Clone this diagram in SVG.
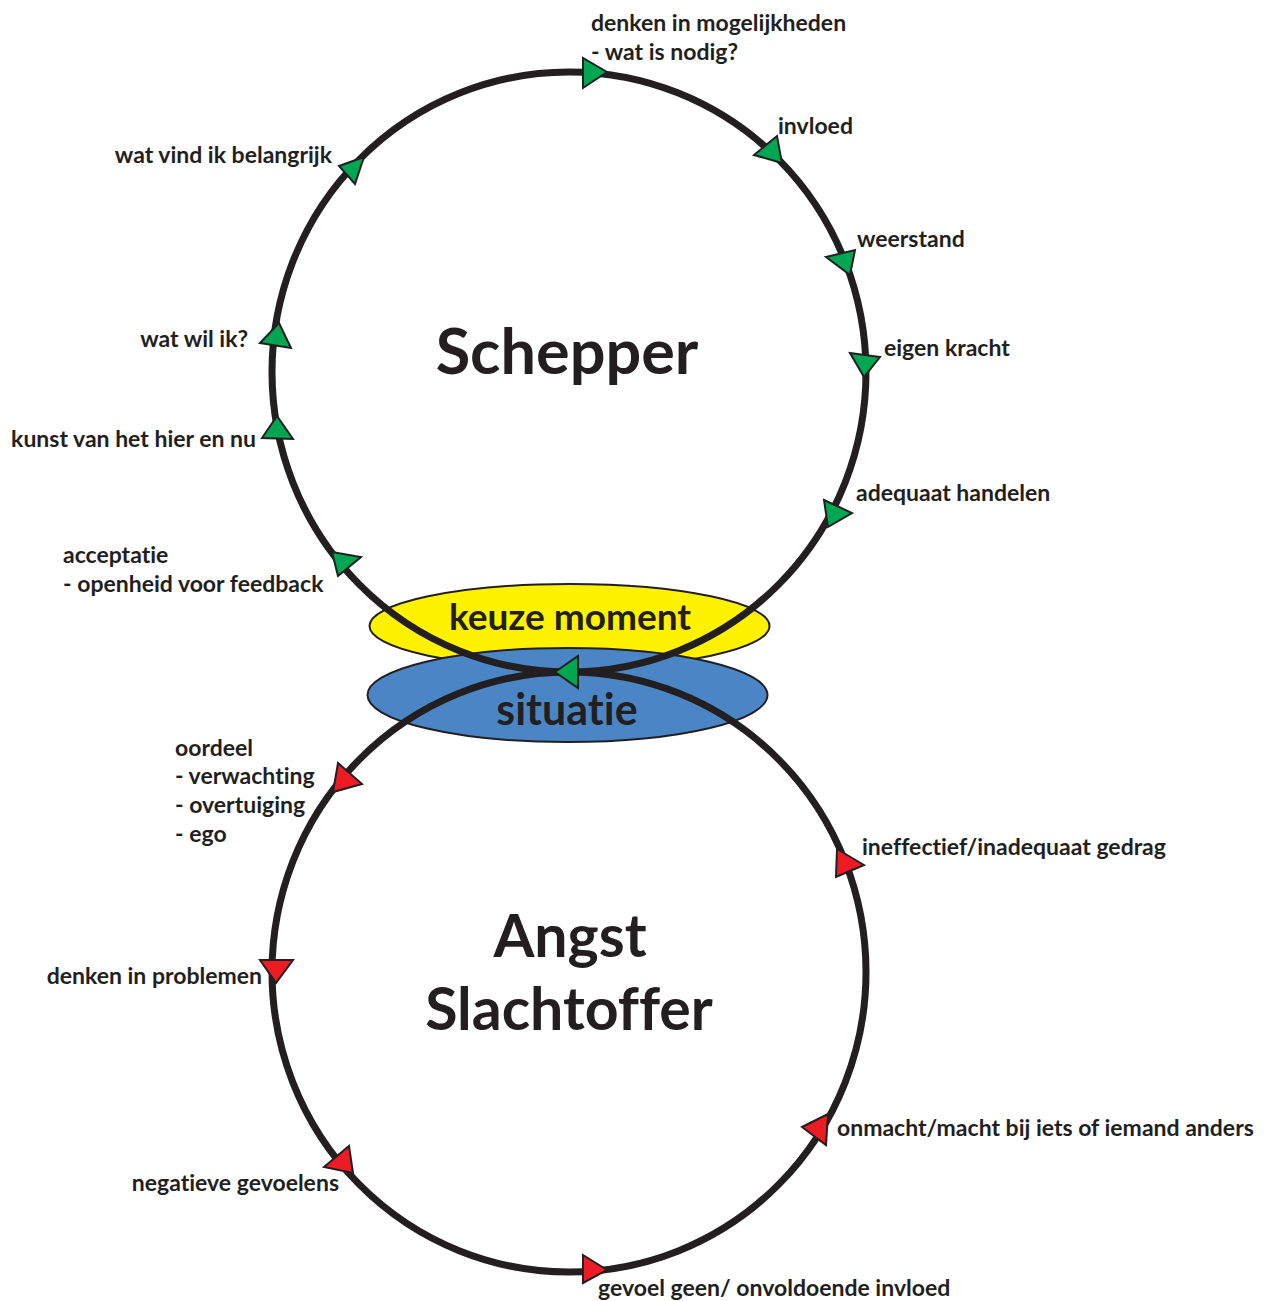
<svg xmlns="http://www.w3.org/2000/svg" width="1268" height="1301" viewBox="0 0 1268 1301">
<style>
text{font-variant-ligatures:none;font-feature-settings:"liga" 0,"dlig" 0}
.lbl{font-family:Lato,"Open Sans","Noto Sans",sans-serif;font-weight:bold;font-size:23px;fill:#231f20}
.big{font-family:Lato,"Open Sans","Noto Sans",sans-serif;font-weight:bold;fill:#231f20;text-anchor:middle}
.ring{fill:none;stroke:#231f20;stroke-width:7}
.g{fill:#00a651;stroke:#231f20;stroke-width:2;stroke-linejoin:miter}
.r{fill:#ed1c24;stroke:#231f20;stroke-width:2;stroke-linejoin:miter}
.ell{stroke:#231f20;stroke-width:2}
</style>
<rect width="1268" height="1301" fill="#fff"/>
<g id="keuze-moment">
<ellipse class="ell" cx="569.5" cy="626" rx="200" ry="42" fill="#fff200"/>
</g>
<g id="situatie">
<ellipse class="ell" cx="567.5" cy="695" rx="200" ry="47" fill="#4a86c5"/>
</g>
<g id="connectors">
<ellipse class="ring" cx="569" cy="372" rx="297" ry="300"/>
<ellipse class="ring" cx="569" cy="972" rx="297" ry="300"/>
</g>
<g id="labels-center">
<text class="big" x="570" y="630" font-size="37">keuze moment</text>
<text class="big" x="567" y="725" font-size="43">situatie</text>
<text class="big" x="567" y="374" font-size="63">Schepper</text>
<text class="big" x="570" y="957" font-size="59">Angst</text>
<text class="big" x="569" y="1030" font-size="59">Slachtoffer</text>
</g>
<g id="arrows-top">
<polygon class="g" points="583,58 583,88 607,72"/>
<polygon class="g" points="754,155 777,136 782,163"/>
<polygon class="g" points="826,257 855,250 850,275"/>
<polygon class="g" points="850,353 880,357 864,377"/>
<polygon class="g" points="824,500 852,513 828,527"/>
<polygon class="g" points="555,672 578,656 578,688"/>
<polygon class="g" points="332,552 361,557 338,576"/>
<polygon class="g" points="262,438 277,416 293,439"/>
<polygon class="g" points="260,343 279,323 291,348"/>
<polygon class="g" points="339,166 364,157 355,184"/>
</g>
<g id="arrows-bottom">
<polygon class="r" points="338,763 362,784 333,792"/>
<polygon class="r" points="260,960 293,960 276,983"/>
<polygon class="r" points="324,1167 349,1146 353,1173"/>
<polygon class="r" points="583,1255 607,1270 583,1283"/>
<polygon class="r" points="802,1127 828,1114 826,1145"/>
<polygon class="r" points="837,849 864,865 836,877"/>
</g>
<g id="labels-top">
<text class="lbl" x="591" y="31">denken in mogelijkheden</text>
<text class="lbl" x="591" y="60">- wat is nodig?</text>
<text class="lbl" x="778" y="134">invloed</text>
<text class="lbl" x="857" y="247">weerstand</text>
<text class="lbl" x="884" y="356">eigen kracht</text>
<text class="lbl" x="856" y="501">adequaat handelen</text>
<text class="lbl" x="332" y="163" text-anchor="end">wat vind ik belangrijk</text>
<text class="lbl" x="248" y="347" text-anchor="end">wat wil ik?</text>
<text class="lbl" x="256" y="447" text-anchor="end">kunst van het hier en nu</text>
<text class="lbl" x="63" y="563">acceptatie</text>
<text class="lbl" x="63" y="592">- openheid voor feedback</text>
</g>
<g id="labels-bottom">
<text class="lbl" x="175" y="756">oordeel</text>
<text class="lbl" x="175" y="784">- verwachting</text>
<text class="lbl" x="175" y="813">- overtuiging</text>
<text class="lbl" x="175" y="842">- ego</text>
<text class="lbl" x="862" y="855">ineffectief/inadequaat gedrag</text>
<text class="lbl" x="262" y="984" text-anchor="end">denken in problemen</text>
<text class="lbl" x="837" y="1136">onmacht/macht bij iets of iemand anders</text>
<text class="lbl" x="339" y="1191" text-anchor="end">negatieve gevoelens</text>
<text class="lbl" x="598" y="1296">gevoel geen/ onvoldoende invloed</text>
</g>
</svg>
